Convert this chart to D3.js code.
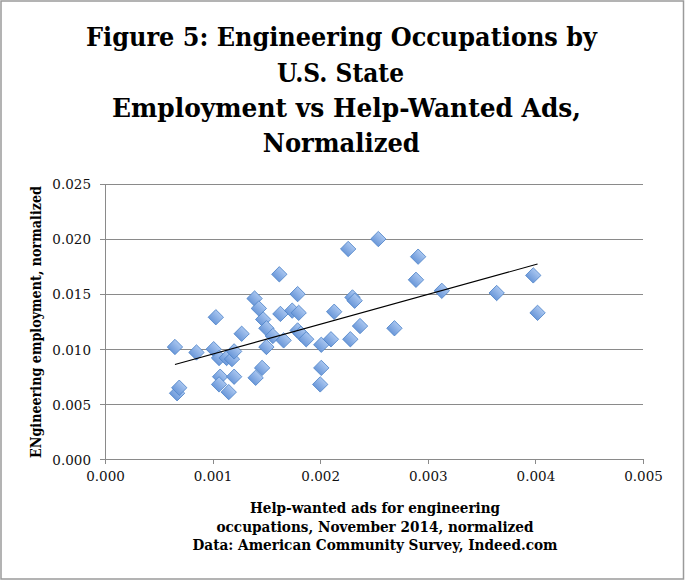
<!DOCTYPE html>
<html>
<head>
<meta charset="utf-8">
<script src="https://cdn.jsdelivr.net/npm/d3@7"></script>
<style>
  html, body { margin: 0; padding: 0; background: #fff; }
  svg { display: block; }
</style>
</head>
<body>
<svg id="chart" width="685" height="581"></svg>
<script>
// ---- data ----
const titleLines = ["Figure 5: Engineering Occupations by", "U.S. State", " Employment vs Help-Wanted Ads,", "Normalized"];
const xLabelLines = ["Help-wanted ads for engineering", "occupations, November 2014, normalized", "Data: American Community Survey, Indeed.com"];
const yLabel = "ENgineering employment, normalized";
const xTicks = [0, 0.001, 0.002, 0.003, 0.004, 0.005];
const yTicks = [0, 0.005, 0.010, 0.015, 0.020, 0.025];

const adsX = [
  0.00065, 0.00067, 0.00069, 0.00085, 0.00101, 0.00103, 0.00106, 0.00113, 0.00118, 0.00120,
  0.00127, 0.00107, 0.00106, 0.00120, 0.00115, 0.00140, 0.00146, 0.00139, 0.00143, 0.00147,
  0.00150, 0.00150, 0.00162, 0.00156, 0.00166, 0.00163, 0.00179, 0.00174, 0.00180, 0.00179,
  0.00182, 0.00187, 0.00201, 0.00210, 0.00213, 0.00201, 0.00200, 0.00226, 0.00254, 0.00291,
  0.00289, 0.00230, 0.00232, 0.00237, 0.00228, 0.00269, 0.00313, 0.00364, 0.00398, 0.00402
];
const employY = [
  0.0102, 0.0060, 0.0065, 0.0097, 0.0100, 0.0129, 0.0092, 0.0092, 0.0091, 0.0098,
  0.0114, 0.0075, 0.0068, 0.0075, 0.0061, 0.0074, 0.0083, 0.0146, 0.0137, 0.0127,
  0.0119, 0.0102, 0.0168, 0.0112, 0.0108, 0.0132, 0.0150, 0.0135, 0.0133, 0.0117,
  0.0114, 0.0109, 0.0104, 0.0109, 0.0134, 0.0083, 0.0068, 0.0191, 0.0200, 0.0184,
  0.0163, 0.0147, 0.0144, 0.0121, 0.0109, 0.0119, 0.0153, 0.0151, 0.0167, 0.0133
];

// ---- layout ----
const svg = d3.select("#chart");
const plot = { left: 105, right: 643, top: 184, bottom: 459.3 };
const x = d3.scaleLinear().domain([0, 0.005]).range([plot.left, plot.right]);
const y = d3.scaleLinear().domain([0, 0.025]).range([plot.bottom, plot.top]);
const serif = "'DejaVu Serif', 'Liberation Serif', serif";
const gridColor = "#8a8a8a";

// outer frame
svg.append("rect").attr("x", 1).attr("y", 1).attr("width", 682.5).attr("height", 578)
  .attr("fill", "none").attr("stroke", "#9a9a9a").attr("stroke-width", 1.5);

// gradient for markers
const defs = svg.append("defs");
const grad = defs.append("linearGradient").attr("id", "mk").attr("x1", "0").attr("y1", "0").attr("x2", "0").attr("y2", "1");
grad.append("stop").attr("offset", "0%").attr("stop-color", "#a9c6f0");
grad.append("stop").attr("offset", "100%").attr("stop-color", "#6b98d9");

// title
const titleBase = [46, 81.5, 117, 152];
const titleWidths = [511, 127, 469, 157];
const titleX = [341.5, 340.5, 346.5, 341.3];
svg.append("g").selectAll("text").data(titleLines).join("text")
  .attr("x", (d, i) => titleX[i]).attr("y", (d, i) => titleBase[i])
  .attr("text-anchor", "middle")
  .attr("font-family", serif).attr("font-weight", "bold").attr("font-size", 25.5)
  .attr("textLength", (d, i) => titleWidths[i]).attr("lengthAdjust", "spacingAndGlyphs")
  .attr("fill", "#000")
  .text(d => d.trim());

// gridlines
svg.append("g").selectAll("line").data(yTicks.filter(t => t > 0)).join("line")
  .attr("x1", plot.left).attr("x2", plot.right)
  .attr("y1", d => y(d)).attr("y2", d => y(d))
  .attr("stroke", gridColor).attr("stroke-width", 1).attr("shape-rendering", "crispEdges");

// axes
const xAxis = d3.axisBottom(x).tickValues(xTicks).tickFormat(d3.format(".3f")).tickSize(5).tickPadding(7);
const yAxis = d3.axisLeft(y).tickValues(yTicks).tickFormat(d3.format(".3f")).tickSize(5).tickPadding(9);

const gx = svg.append("g").attr("transform", `translate(0,${plot.bottom})`).call(xAxis);
const gy = svg.append("g").attr("transform", `translate(${plot.left},0)`).call(yAxis);
[gx, gy].forEach(g => {
  g.select(".domain").attr("stroke", gridColor).attr("shape-rendering", "crispEdges");
  g.selectAll(".tick line").attr("stroke", gridColor).attr("shape-rendering", "crispEdges");
  g.selectAll(".tick text").attr("font-family", serif).attr("font-size", 13.5).attr("fill", "#111");
});
gx.select(".domain").attr("d", `M${plot.left},0H${plot.right}`);
gy.select(".domain").attr("d", `M0,${plot.bottom}V${plot.top}`);
gy.selectAll(".tick text").attr("dy", "0.36em");

// points
const pts = adsX.map((v, i) => ({ x: v, y: employY[i] }));
const diamond = d3.symbol(d3.symbolSquare, 118);
svg.append("g").selectAll("path").data(pts).join("path")
  .attr("d", diamond)
  .attr("transform", d => `translate(${x(d.x)},${y(d.y)}) rotate(45)`)
  .attr("fill", "url(#mk)").attr("stroke", "#4f84c9").attr("stroke-width", 0.8);

// linear trend line (least squares)
const mx = d3.mean(adsX), my = d3.mean(employY);
const sxy = d3.sum(adsX, (v, i) => (v - mx) * (employY[i] - my));
const sxx = d3.sum(adsX, v => (v - mx) * (v - mx));
const slope = sxy / sxx, intercept = my - slope * mx;
const [x0, x1] = d3.extent(adsX);
svg.append("line")
  .attr("x1", x(x0)).attr("y1", y(intercept + slope * x0))
  .attr("x2", x(x1)).attr("y2", y(intercept + slope * x1))
  .attr("stroke", "#000").attr("stroke-width", 1.1);

// x-axis title
const xlBase = [513.3, 531.7, 549.5];
const xlWidths = [250, 317, 365];
svg.append("g").selectAll("text").data(xLabelLines).join("text")
  .attr("x", 375).attr("y", (d, i) => xlBase[i])
  .attr("text-anchor", "middle")
  .attr("font-family", serif).attr("font-weight", "bold").attr("font-size", 14.5)
  .attr("textLength", (d, i) => xlWidths[i]).attr("lengthAdjust", "spacingAndGlyphs")
  .attr("fill", "#000")
  .text(d => d);

// y-axis title
svg.append("text")
  .attr("transform", "translate(41,322) rotate(-90)")
  .attr("text-anchor", "middle")
  .attr("font-family", serif).attr("font-weight", "bold").attr("font-size", 14.5)
  .attr("textLength", 272).attr("lengthAdjust", "spacingAndGlyphs")
  .attr("fill", "#000")
  .text(yLabel);
</script>
</body>
</html>
